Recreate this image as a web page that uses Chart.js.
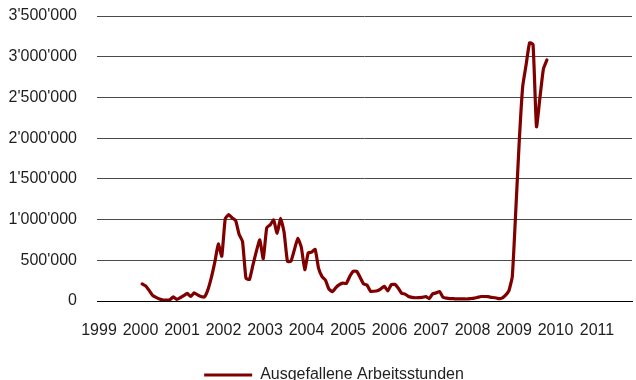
<!DOCTYPE html>
<html>
<head>
<meta charset="utf-8">
<title>Ausgefallene Arbeitsstunden</title>
<script src="https://cdn.jsdelivr.net/npm/chart.js@4/dist/chart.umd.min.js"></script>
<style>
    html, body { margin: 0; padding: 0; background: #fff; overflow: hidden; }
    #wrap { position: relative; width: 636px; height: 393px; }
</style>
</head>
<body>
<div id="wrap"><canvas id="stundenChart"></canvas></div>
<script>
// Monatswerte ab Januar 2000 (ausgefallene Arbeitsstunden)
const startYear = 2000;
const hours = [
    210000, 185000, 130000, 70000, 45000, 25000, 12000, 10000, 15000, 50000, 20000, 40000,            // 2000
    65000, 95000, 55000, 100000, 75000, 55000, 50000, 140000, 290000, 480000, 700000, 550000,         // 2001
    1010000, 1060000, 1020000, 990000, 820000, 730000, 280000, 265000, 440000, 610000, 750000, 520000, // 2002
    900000, 935000, 995000, 830000, 1015000, 850000, 485000, 490000, 630000, 770000, 660000, 385000,  // 2003
    590000, 600000, 635000, 400000, 300000, 255000, 145000, 115000, 165000, 200000, 220000, 215000,   // 2004
    300000, 365000, 365000, 290000, 210000, 195000, 120000, 120000, 125000, 150000, 180000, 125000,   // 2005
    200000, 205000, 160000, 95000, 85000, 55000, 45000, 40000, 42000, 45000, 55000, 30000,            // 2006
    88000, 100000, 115000, 45000, 35000, 30000, 28000, 25000, 25000, 25000, 25000, 30000,             // 2007
    35000, 45000, 55000, 55000, 53000, 45000, 40000, 30000, 35000, 70000, 125000, 300000,             // 2008
    1100000, 1950000, 2630000, 2900000, 3170000, 3150000, 2140000, 2500000, 2850000, 2960000          // 2009
];
const yearTicks = [1999, 2000, 2001, 2002, 2003, 2004, 2005, 2006, 2007, 2008, 2009, 2010, 2011];
const valueTicks = [0, 500000, 1000000, 1500000, 2000000, 2500000, 3000000, 3500000];
const seriesName = 'Ausgefallene Arbeitsstunden';

// Punkte jeweils in der Monatsmitte
const points = hours.map((v, i) => ({ x: startYear + (i + 0.5) / 12, y: v }));

// 3'500'000
function swissFormat(n) {
    return String(n).replace(/\B(?=(\d{3})+(?!\d))/g, "'");
}

// Legende etwas nach rechts rücken
const legendShift = {
    id: 'legendShift',
    afterLayout(chart) {
        chart.legend.left = 36;
    }
};

Chart.defaults.font.family = "'Liberation Sans', Arial, sans-serif";
Chart.defaults.font.size = 16;
Chart.defaults.color = '#1e1e1e';

const ctx = document.getElementById('stundenChart').getContext('2d');
const stundenChart = new Chart(ctx, {
    type: 'line',
    data: {
        datasets: [{
            label: seriesName,
            data: points,
            borderColor: '#800000',
            backgroundColor: '#800000',
            borderWidth: 3.2,
            tension: 0.15,
            borderJoinStyle: 'round',
            borderCapStyle: 'round',
            pointRadius: 0,
            fill: false
        }]
    },
    options: {
        responsive: true,
        maintainAspectRatio: false,
        animation: false,
        layout: {
            padding: { left: 8, right: 4, top: 16, bottom: 0 }
        },
        scales: {
            x: {
                type: 'linear',
                min: 1998.952,
                max: 2011.843,
                afterBuildTicks: (scale) => {
                    scale.ticks = yearTicks.map(v => ({ value: v }));
                },
                afterFit: (scale) => {
                    scale.height = 40;
                },
                ticks: {
                    autoSkip: false,
                    maxRotation: 0,
                    padding: 20,
                    callback: (value) => String(value)
                },
                grid: { display: false, drawTicks: false },
                border: { display: true, color: '#000', width: 1 }
            },
            y: {
                min: 0,
                max: 3500000,
                afterBuildTicks: (scale) => {
                    scale.ticks = valueTicks.map(v => ({ value: v }));
                },
                afterFit: (scale) => {
                    scale.width = 89;
                    scale.paddingTop = 0;
                    scale.paddingBottom = 0;
                },
                ticks: {
                    padding: 20,
                    callback: (value) => swissFormat(value)
                },
                grid: {
                    color: (c) => c.tick && c.tick.value === 0 ? '#000' : '#4a4a4a',
                    lineWidth: 1,
                    drawTicks: false
                },
                border: { display: false }
            }
        },
        plugins: {
            tooltip: { enabled: false },
            legend: {
                position: 'bottom',
                labels: {
                    usePointStyle: true,
                    pointStyle: 'line',
                    pointStyleWidth: 48,
                    padding: 26,
                    color: '#1e1e1e'
                }
            }
        }
    },
    plugins: [legendShift]
});
</script>
</body>
</html>
